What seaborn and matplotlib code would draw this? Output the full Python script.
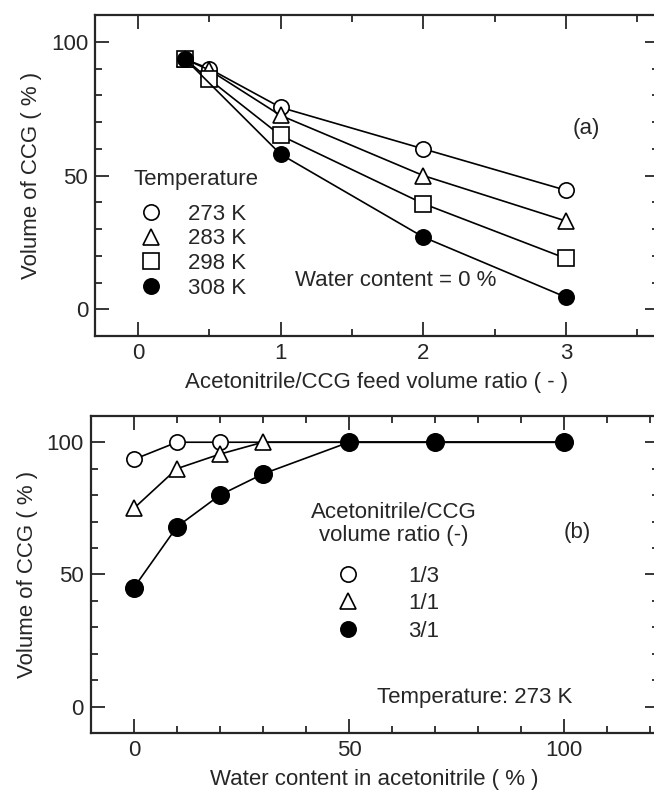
import pandas as pd
import seaborn as sns
import matplotlib.pyplot as plt
from matplotlib.lines import Line2D
from matplotlib.ticker import MultipleLocator

# panel (a): feed ratio vs volume, per temperature
ratio_a = [1/3, 0.5, 1, 2, 3]
vol_273 = [93.5, 90, 75.5, 60, 44.5]
vol_283 = [93.5, 89.5, 72.5, 50, 33]
vol_298 = [93.5, 86, 65, 39.5, 19]
ratio_308 = [1/3, 1, 2, 3]
vol_308 = [93.5, 58, 27, 4.5]
temp_labels = ['273 K', '283 K', '298 K', '308 K']

# panel (b): water content vs volume, per acetonitrile/CCG ratio
water = [0, 10, 20, 30, 50, 70, 100]
vol_1_3 = [93.5, 100, 100, 100, 100, 100, 100]
vol_1_1 = [75, 90, 95.5, 100, 100, 100, 100]
vol_3_1 = [45, 68, 80, 88, 100, 100, 100]
ratio_labels = ['1/3', '1/1', '3/1']

sns.set_style('ticks')
plt.rcParams['font.family'] = ['Liberation Sans', 'DejaVu Sans']
plt.rcParams['font.size'] = 16

fig = plt.figure(figsize=(6.54, 7.99), dpi=100)
ax1 = fig.add_axes([0.1453, 0.5795, 0.862, 0.4015])
ax2 = fig.add_axes([0.139, 0.0826, 0.868, 0.397])

styles = [dict(marker='o', mfc='white'), dict(marker='^', mfc='white'),
          dict(marker='s', mfc='white'), dict(marker='o', mfc='black')]
common = dict(color='black', mec='black', ms=11, mew=1.2, lw=1.2)

series_a = [(ratio_a, vol_273), (ratio_a, vol_283), (ratio_a, vol_298), (ratio_308, vol_308)]
for (xs, ys), st in zip(series_a, styles):
    df = pd.DataFrame({'x': xs, 'y': ys})
    sns.lineplot(data=df, x='x', y='y', ax=ax1, **st, **common)

# overlapping markers at 100 % are hidden behind the later series in the original
series_b = [(vol_1_3, [0, 1, 2], styles[0], 11), (vol_1_1, [0, 1, 2, 3], styles[1], 11),
            (vol_3_1, None, styles[3], 12.5)]
for ys, every, st, ms in series_b:
    df = pd.DataFrame({'x': water, 'y': ys})
    kw = dict(common, ms=ms)
    sns.lineplot(data=df, x='x', y='y', ax=ax2, markevery=every, **st, **kw)

for ax in (ax1, ax2):
    ax.set_ylim(-10, 110)
    ax.yaxis.set_major_locator(MultipleLocator(50))
    ax.yaxis.set_minor_locator(MultipleLocator(10))
    ax.tick_params(which='both', direction='in', top=True, right=True, width=1.3, labelsize=16, pad=5)
    ax.tick_params(which='major', length=10)
    ax.tick_params(which='minor', length=5)
    for s in ax.spines.values():
        s.set_linewidth(1.6)
    ax.set_ylabel('Volume of CCG ( % )', fontsize=16, labelpad=6)

ax1.set_xlim(-0.3, 3.65)
ax1.xaxis.set_major_locator(MultipleLocator(1))
ax1.xaxis.set_minor_locator(MultipleLocator(0.5))
ax1.set_xlabel('Acetonitrile/CCG feed volume ratio ( - )', fontsize=16, labelpad=6)

ax2.set_xlim(-10, 122)
ax2.xaxis.set_major_locator(MultipleLocator(50))
ax2.xaxis.set_minor_locator(MultipleLocator(10))
ax2.set_xlabel('Water content in acetonitrile ( % )', fontsize=16, labelpad=6)

def handles(sts):
    return [Line2D([], [], ls='none', color='black', mec='black', ms=11, mew=1.2, **s) for s in sts]

ax1.legend(handles(styles), temp_labels, loc='upper left',
           bbox_to_anchor=(0.056, 0.447), frameon=False, fontsize=16,
           handlelength=1.2, handletextpad=1.08, labelspacing=0.17, borderpad=0.0)
ax1.text(-0.03, 48.5, 'Temperature', ha='left', va='center', fontsize=16)

ax2.legend(handles([styles[0], styles[1], styles[3]]), ratio_labels, loc='upper left',
           bbox_to_anchor=(0.41, 0.563), frameon=False, fontsize=16,
           handlelength=1.2, handletextpad=2.1, labelspacing=0.3, borderpad=0.0)
ax2.text(60.5, 69, 'Acetonitrile/CCG\nvolume ratio (-)', ha='center', va='center',
         fontsize=16, linespacing=1.15)

ax1.text(3.14, 67.5, '(a)', ha='center', va='center', fontsize=16)
ax1.text(1.10, 10.8, 'Water content = 0 %', ha='left', va='center', fontsize=16)
ax2.text(103, 65.8, '(b)', ha='center', va='center', fontsize=16)
ax2.text(102, 3.5, 'Temperature: 273 K', ha='right', va='center', fontsize=16)

fig.savefig('out.png', dpi=100)
